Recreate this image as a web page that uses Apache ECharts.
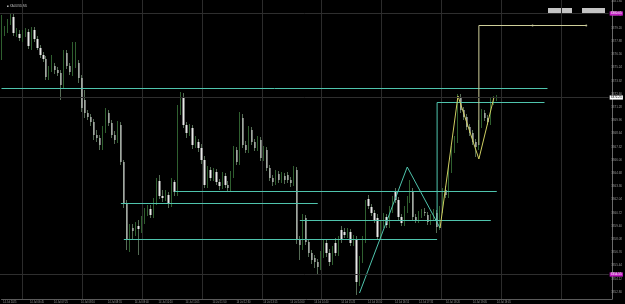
<!DOCTYPE html>
<html><head><meta charset="utf-8">
<script src="https://cdn.jsdelivr.net/npm/echarts@6/dist/echarts.min.js"></script>
<style>html,body{margin:0;padding:0;background:#000;overflow:hidden}#c{width:625px;height:304px}</style>
</head><body><div id="c"></div>
<script>
const symbolName = 'XAUUSD,M5';
const opens = [3378.0,3378.8,3379.0,3379.8,3380.3,3378.7,3378.6,3378.2,3378.7,3378.8,3377.4,3379.0,3378.1,3377.2,3376.5,3376.1,3374.3,3375.0,3375.4,3375.0,3374.7,3373.5,3376.7,3375.4,3374.8,3375.5,3375.7,3374.2,3372.0,3370.7,3370.3,3369.8,3368.5,3368.2,3367.5,3369.0,3370.7,3369.7,3368.5,3368.0,3369.5,3365.8,3361.6,3358.0,3359.2,3358.9,3359.4,3359.1,3360.0,3360.8,3361.1,3360.5,3361.8,3363.9,3362.4,3362.2,3362.5,3361.6,3363.8,3362.8,3370.8,3372.3,3369.5,3368.7,3369.2,3367.5,3367.8,3367.2,3366.0,3363.5,3365.0,3364.2,3364.8,3363.8,3363.4,3364.4,3363.5,3363.2,3364.5,3367.0,3365.8,3370.2,3367.5,3367.0,3369.0,3367.8,3367.2,3368.0,3366.2,3367.0,3365.2,3364.2,3363.8,3364.6,3364.0,3364.4,3364.5,3364.0,3363.7,3365.0,3358.0,3357.5,3360.2,3357.8,3356.7,3356.2,3355.8,3355.3,3356.5,3357.7,3356.7,3355.8,3357.7,3356.7,3359.0,3358.8,3358.5,3358.8,3357.7,3358.1,3353.8,3356.0,3358.0,3362.1,3361.3,3360.7,3360.2,3358.3,3359.5,3360.3,3359.5,3361.0,3362.8,3362.0,3360.3,3359.7,3361.0,3362.0,3362.9,3360.3,3360.0,3360.5,3360.8,3360.5,3359.8,3360.2,3360.7,3359.3,3361.0,3363.0,3362.5,3365.0,3367.0,3368.0,3372.3,3371.0,3370.3,3369.3,3368.7,3367.8,3367.3,3369.5,3370.7,3370.2,3369.8,3371.8,3372.1];
const closes = [3378.8,3379.0,3379.8,3380.3,3378.7,3378.9,3378.2,3378.7,3378.8,3377.4,3379.0,3378.1,3377.2,3376.5,3376.1,3374.3,3375.0,3375.4,3375.0,3374.7,3373.5,3376.7,3375.4,3374.8,3375.5,3376.0,3374.2,3371.2,3370.7,3370.3,3369.8,3368.5,3368.2,3367.5,3369.0,3370.7,3369.7,3368.5,3368.0,3369.5,3365.8,3361.7,3358.0,3359.2,3358.9,3359.4,3359.1,3360.0,3360.8,3361.1,3360.5,3361.8,3363.9,3362.4,3362.2,3362.5,3361.6,3363.8,3362.8,3370.8,3372.3,3369.5,3368.7,3369.2,3367.5,3368.0,3367.2,3366.0,3363.5,3365.0,3364.2,3364.8,3363.8,3363.4,3364.4,3363.5,3363.2,3364.5,3367.0,3365.8,3370.2,3367.5,3367.0,3369.0,3367.8,3367.2,3368.0,3366.2,3367.0,3365.2,3364.2,3363.8,3364.6,3364.0,3364.4,3364.0,3364.0,3363.7,3365.0,3358.0,3357.5,3360.2,3357.8,3356.7,3356.0,3355.8,3355.3,3356.5,3357.7,3356.7,3355.8,3357.0,3356.7,3358.0,3358.0,3358.5,3358.8,3357.7,3358.1,3353.8,3356.0,3358.0,3361.5,3361.4,3360.7,3360.0,3358.3,3359.5,3360.3,3359.5,3361.0,3362.0,3362.0,3360.3,3359.7,3361.0,3362.0,3362.9,3360.3,3360.0,3360.5,3360.7,3360.7,3359.8,3360.2,3360.7,3359.3,3361.0,3362.8,3362.5,3365.0,3367.0,3368.0,3372.3,3371.0,3370.3,3369.3,3368.7,3367.8,3367.3,3369.5,3370.7,3370.2,3369.8,3371.8,3372.1,3372.2];
const lows = [3376.0,3378.4,3378.7,3379.5,3378.4,3378.3,3377.9,3377.8,3378.3,3377.1,3377.0,3377.8,3377.0,3376.2,3375.8,3374.0,3374.0,3374.8,3374.6,3374.4,3372.0,3373.2,3375.1,3374.5,3374.4,3375.2,3373.7,3370.8,3370.2,3370.0,3369.4,3368.0,3367.8,3367.0,3367.0,3368.7,3369.4,3368.2,3367.6,3367.7,3365.5,3361.2,3357.0,3356.8,3358.0,3358.4,3356.5,3358.7,3359.6,3360.4,3360.2,3360.2,3361.5,3362.1,3361.8,3361.9,3361.2,3361.3,3362.4,3362.4,3370.5,3369.2,3368.2,3368.4,3367.1,3367.2,3366.8,3365.6,3363.2,3363.2,3363.9,3363.9,3363.5,3363.0,3363.1,3363.2,3362.8,3362.9,3364.2,3365.5,3365.5,3367.2,3366.7,3366.7,3367.5,3366.9,3366.9,3365.9,3365.9,3364.9,3363.9,3363.4,3363.5,3363.7,3363.7,3363.6,3363.7,3363.3,3363.4,3357.6,3356.0,3357.0,3357.5,3356.3,3355.6,3355.2,3354.5,3355.0,3356.2,3356.3,3355.4,3355.5,3356.4,3356.4,3357.7,3358.2,3358.2,3357.4,3357.4,3352.5,3353.4,3355.7,3357.7,3361.1,3360.4,3359.7,3358.0,3358.0,3359.2,3359.2,3359.2,3360.7,3361.7,3360.0,3359.4,3359.4,3360.7,3361.7,3360.0,3359.7,3359.7,3360.2,3360.4,3359.5,3359.5,3359.9,3358.7,3359.0,3360.7,3362.2,3362.2,3364.7,3366.7,3367.7,3370.7,3370.0,3369.0,3368.4,3367.5,3366.3,3367.0,3369.2,3369.9,3369.5,3369.5,3371.5,3371.9];
const highs = [3380.5,3379.4,3380.1,3380.7,3380.6,3379.2,3379.0,3379.0,3379.2,3379.1,3379.3,3379.3,3378.4,3377.5,3376.8,3376.4,3375.4,3376.5,3375.7,3375.3,3375.0,3377.0,3377.0,3375.7,3377.8,3377.8,3376.0,3374.5,3373.0,3371.0,3370.6,3370.1,3369.0,3368.5,3369.4,3371.2,3371.0,3370.0,3368.9,3369.9,3369.8,3366.0,3362.0,3359.6,3359.6,3359.8,3360.0,3360.4,3361.2,3361.5,3361.5,3362.2,3364.2,3364.5,3363.0,3363.0,3362.8,3364.2,3364.0,3371.5,3372.8,3372.7,3369.8,3369.6,3369.5,3368.4,3368.1,3367.6,3366.4,3365.4,3365.3,3365.2,3365.1,3364.1,3364.8,3364.7,3363.9,3364.9,3367.4,3367.3,3370.8,3370.6,3367.9,3369.4,3369.3,3368.1,3368.4,3368.3,3367.4,3367.3,3365.5,3364.5,3365.0,3364.9,3364.8,3364.7,3364.8,3364.3,3365.4,3365.3,3358.4,3360.6,3360.5,3358.1,3357.0,3356.5,3356.1,3356.9,3358.1,3358.0,3357.1,3357.4,3358.2,3358.4,3359.4,3359.2,3359.2,3359.1,3358.5,3358.4,3356.4,3358.4,3362.0,3362.5,3361.6,3361.0,3360.6,3359.9,3360.7,3360.6,3361.4,3362.4,3363.2,3362.3,3360.6,3361.4,3362.4,3364.0,3363.2,3360.6,3360.9,3361.1,3361.2,3360.8,3360.6,3361.1,3361.0,3361.4,3363.2,3363.4,3365.4,3367.4,3368.4,3372.6,3372.6,3371.3,3370.6,3369.6,3369.0,3368.1,3370.0,3371.1,3371.0,3370.5,3372.2,3372.4,3372.5];

// price-axis ticks
const yMin = 3352.80, yMax = 3381.84, yStep = 1.32;
// time axis
const totalSlots = 204;
const startTimeUTC = Date.UTC(2025, 6, 14, 6, 0);
const barMinutes = 5;
const monthNames = ['Jan','Feb','Mar','Apr','May','Jun','Jul','Aug','Sep','Oct','Nov','Dec'];
const labelSlots = [0,9,17,26,35,44,52,61,70,78,87,96,104,113,122,131,139,148,157,165];
const gridSlots = [7,27,47,67,87,107,127,147,167,187];

// horizontal levels: [startSlot, endSlot, price]
const cyanLevels = [[-0.5,183.2,3373.15],[146.33,182.2,3371.75],[58.2,166.2,3362.85],[39.8,105.5,3361.65],[99.5,164.2,3359.95],[41.2,145.8,3358.05]];
const cyanVertical = [[146.33,3371.75],[146.33,3359.95]];
const cyanZigzag = [[119.5,3352.7],[135.5,3365.3],[146.5,3359.2]];
const yellowZigzag = [[146.5,3359.2],[152.8,3372.4],[159.5,3366.1],[164.5,3372.2]];
const khakiLine = [[160.33,3367.5],[160.33,3379.45],[196.2,3379.45]];
const khakiDots = [[178.2,3379.45],[196.2,3379.45]];
// price markers
const darkLevels = [3380.65, 3372.25, 3354.55];
const markerColors = ['#c21cc2','#ffffff','#c21cc2'];
const markerText = ['#ffffff','#000000','#ffffff'];

const categories = [];
for (let i = 0; i < totalSlots; i++) {
  const d = new Date(startTimeUTC + i * barMinutes * 60000);
  const day = d.getUTCDate() + ' ' + monthNames[d.getUTCMonth()];
  const hh = String(d.getUTCHours()).padStart(2,'0'), mm = String(d.getUTCMinutes()).padStart(2,'0');
  categories.push(i === 0 ? day + ' ' + d.getUTCFullYear() : day + ' ' + hh + ':' + mm);
}
const labelSet = new Set(labelSlots), gridSet = new Set(gridSlots);
const candleData = opens.map((o,i)=>[o, closes[i], lows[i], highs[i]]);
const bodyData = opens.map((o,i)=>[o, closes[i], Math.min(o,closes[i]), Math.max(o,closes[i])]);

const cyan = '#4fc4ad';
const lineBase = {type:'line', xAxisIndex:0, yAxisIndex:0, symbol:'none', clip:false, silent:true, animation:false};
const series = [
  {type:'candlestick', xAxisIndex:0, yAxisIndex:0, data:candleData, barWidth:1, clip:false, animation:false, silent:true,
   itemStyle:{color:'#000', color0:'#000', borderColor:'#2f5f2f', borderColor0:'#556b55', borderWidth:1}},
  {type:'candlestick', xAxisIndex:0, yAxisIndex:0, data:bodyData, barWidth:2, clip:false, animation:false, silent:true,
   itemStyle:{color:'rgba(0,0,0,0)', borderColor:'rgba(0,0,0,0)', color0:'#e8e8e8', borderColor0:'#e8e8e8', borderWidth:0}},
  Object.assign({}, lineBase, {data:[], markLine:{symbol:'none', silent:true, animation:false,
     lineStyle:{color:'#2e2e2e', width:1, type:'solid'},
     data: darkLevels.map((v,i)=>({yAxis:v, label:{show:true, position:'end', distance:1, formatter:()=>v.toFixed(2),
        fontSize:3, color:markerText[i], backgroundColor:markerColors[i], padding:[0.6,1.2]}}))}}),
];
cyanLevels.forEach(l => series.push(Object.assign({}, lineBase, {data:[[l[0],l[2]],[l[1],l[2]]], lineStyle:{color:cyan, width:1}})));
series.push(Object.assign({}, lineBase, {data:cyanVertical, lineStyle:{color:cyan, width:1}}));
series.push(Object.assign({}, lineBase, {data:cyanZigzag, lineStyle:{color:cyan, width:1}}));
series.push(Object.assign({}, lineBase, {data:yellowZigzag, lineStyle:{color:'#cfcf62', width:1}}));
series.push(Object.assign({}, lineBase, {data:khakiLine, lineStyle:{color:'#cfcf9a', width:1}}));
series.push({type:'scatter', xAxisIndex:0, yAxisIndex:0, data:khakiDots, symbolSize:2, itemStyle:{color:'#e8e8c0'}, silent:true, animation:false});

const chart = echarts.init(document.getElementById('c'), null, {renderer:'canvas'});
chart.setOption({
  backgroundColor:'#000',
  animation:false,
  title:{text:'\u25A0 ' + symbolName, left:2, top:0, textStyle:{fontSize:3, color:'#bbb', fontWeight:'normal'}},
  grid:[{left:0, width:612, top:1.6, bottom:12}, {left:0, width:612, top:0, bottom:5}],
  xAxis:[
    {type:'category', gridIndex:0, data:categories, show:false},
    {type:'category', gridIndex:1, data:categories, boundaryGap:true,
     axisLine:{show:true, lineStyle:{color:'#5a5a5a', width:1}},
     axisTick:{show:false, alignWithLabel:true, interval:(i)=>gridSet.has(i)},
     splitLine:{show:true, interval:(i)=>gridSet.has(i), lineStyle:{color:'#2c2c2c', width:1}},
     axisLabel:{show:true, interval:(i)=>labelSet.has(i), align:'left', fontSize:2.6, color:'#9a9a9a', margin:1.5}}
  ],
  yAxis:[
    {type:'value', gridIndex:0, position:'right', min:yMin, max:yMax, interval:yStep, scale:true,
     axisLine:{show:false}, axisTick:{show:false}, splitLine:{show:false},
     axisLabel:{show:true, fontSize:3, color:'#9a9a9a', margin:2.5, formatter:(v)=>v.toFixed(2)}},
    {type:'value', gridIndex:1, position:'right', min:0, max:1,
     axisLine:{show:true, lineStyle:{color:'#6a6a6a', width:1}}, axisTick:{show:false}, splitLine:{show:false}, axisLabel:{show:false}}
  ],
  graphic:[
    {type:'rect', left:548, top:8, shape:{width:24, height:5}, style:{fill:'#c4c4c4'}, silent:true},
    {type:'rect', left:582, top:8, shape:{width:23, height:5}, style:{fill:'#c4c4c4'}, silent:true}
  ],
  series: series
});
</script></body></html>
